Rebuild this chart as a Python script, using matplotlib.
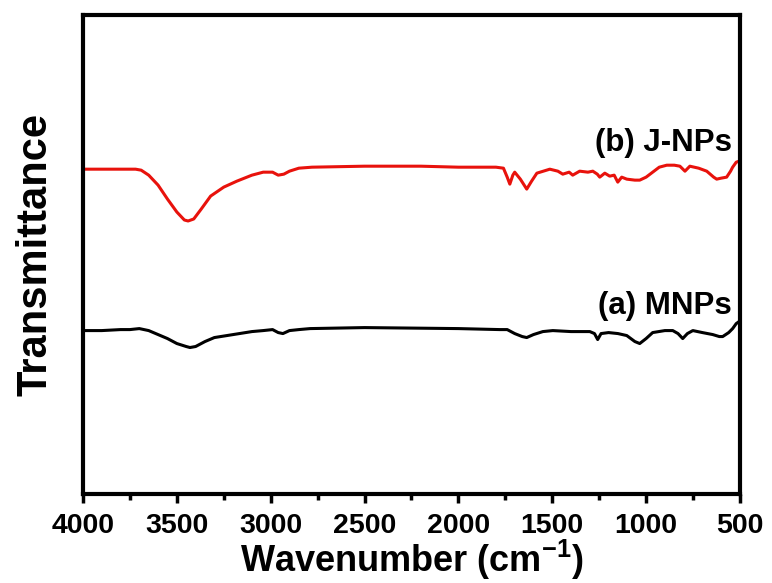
import numpy as np
import matplotlib.pyplot as plt
from matplotlib.ticker import MultipleLocator

# 读图得到的光谱 (波数 cm-1, 透过率 任意单位)
wn_b = [4000, 3900, 3800, 3720, 3690, 3650, 3600, 3550, 3500, 3460, 3440, 3410,
        3370, 3320, 3250, 3180, 3100, 3040, 2990, 2960, 2930, 2900, 2850, 2780,
        2500, 2200, 2000, 1800, 1760, 1740, 1726, 1710, 1700, 1670, 1636, 1610,
        1582, 1513, 1470, 1444, 1410, 1391, 1354, 1310, 1284, 1260, 1247, 1220,
        1194, 1170, 1151, 1130, 1103, 1060, 1034, 1000, 965, 930, 890, 850, 820,
        793, 767, 720, 677, 640, 624, 600, 571, 550, 539, 520, 505]
t_b = [326, 326, 326, 326, 325, 320, 310, 296, 283, 275, 274, 276,
       286, 299, 308, 314, 320, 323, 323, 320, 321, 324, 327, 328,
       329, 329, 328, 328, 327, 318, 311, 320, 323, 316, 306, 314,
       322, 326, 324, 321, 323, 320, 324, 323, 324, 321, 318, 322,
       319, 320, 313, 318, 316, 315, 315, 318, 323, 328, 330, 330, 329,
       324, 329, 327, 324, 318, 316, 317, 318, 324, 328, 333, 334]

wn_a = [4000, 3900, 3800, 3750, 3700, 3650, 3600, 3550, 3500, 3450, 3430, 3400,
        3350, 3300, 3200, 3100, 3040, 2990, 2960, 2935, 2900, 2850, 2790, 2500,
        2000, 1780, 1740, 1700, 1660, 1636, 1600, 1550, 1497, 1400, 1300, 1275,
        1258, 1240, 1200, 1150, 1103, 1060, 1034, 1000, 965, 900, 858, 830, 805,
        780, 751, 700, 645, 610, 592, 560, 539, 520, 505]
t_a = [164, 164, 165, 165, 166, 164, 160, 156, 151, 148, 147, 148,
       153, 157, 160, 163, 164, 165, 162, 161, 164, 165, 166, 167,
       166, 165, 165, 161, 158, 157, 160, 163, 164, 163, 163, 161,
       155, 161, 162, 161, 159, 153, 151, 156, 162, 164, 164, 161, 156,
       161, 164, 162, 160, 158, 158, 162, 166, 171, 173]

plt.rcParams['font.family'] = ['Liberation Sans', 'DejaVu Sans']
plt.rcParams['mathtext.fontset'] = 'custom'
plt.rcParams['mathtext.bf'] = 'Liberation Sans:bold'
plt.rcParams['mathtext.rm'] = 'Liberation Sans:bold'

fig = plt.figure(figsize=(7.72, 5.83), dpi=100)
ax = fig.add_axes([0.1075, 0.1527, 0.851, 0.822])

ax.plot(wn_a, t_a, color='black', lw=2.2)
ax.plot(wn_b, t_b, color='#e8120c', lw=2.2)

ax.set_xlim(4000, 500)
ax.set_ylim(0, 481)
ax.xaxis.set_major_locator(MultipleLocator(500))
ax.xaxis.set_minor_locator(MultipleLocator(250))
ax.set_yticks([])
ax.tick_params(axis='x', which='major', direction='out', length=6.5, width=2.5,
               labelsize=20.5, pad=7)
ax.tick_params(axis='x', which='minor', direction='out', length=4, width=2.5)
for lab in ax.get_xticklabels():
    lab.set_fontweight('bold')
for s in ax.spines.values():
    s.set_linewidth(3)

ax.text(544, 344, '(b) J-NPs', fontsize=22.5, fontweight='bold', ha='right', va='baseline')
ax.text(544, 181, '(a) MNPs', fontsize=22.5, fontweight='bold', ha='right', va='baseline')

ax.set_xlabel(r'Wavenumber (cm$^{\mathbf{-1}}$)', fontsize=26, fontweight='bold', labelpad=-1)
ax.set_ylabel('Transmittance', fontsize=30, fontweight='bold', labelpad=20)

fig.savefig('out.png', dpi=100)
